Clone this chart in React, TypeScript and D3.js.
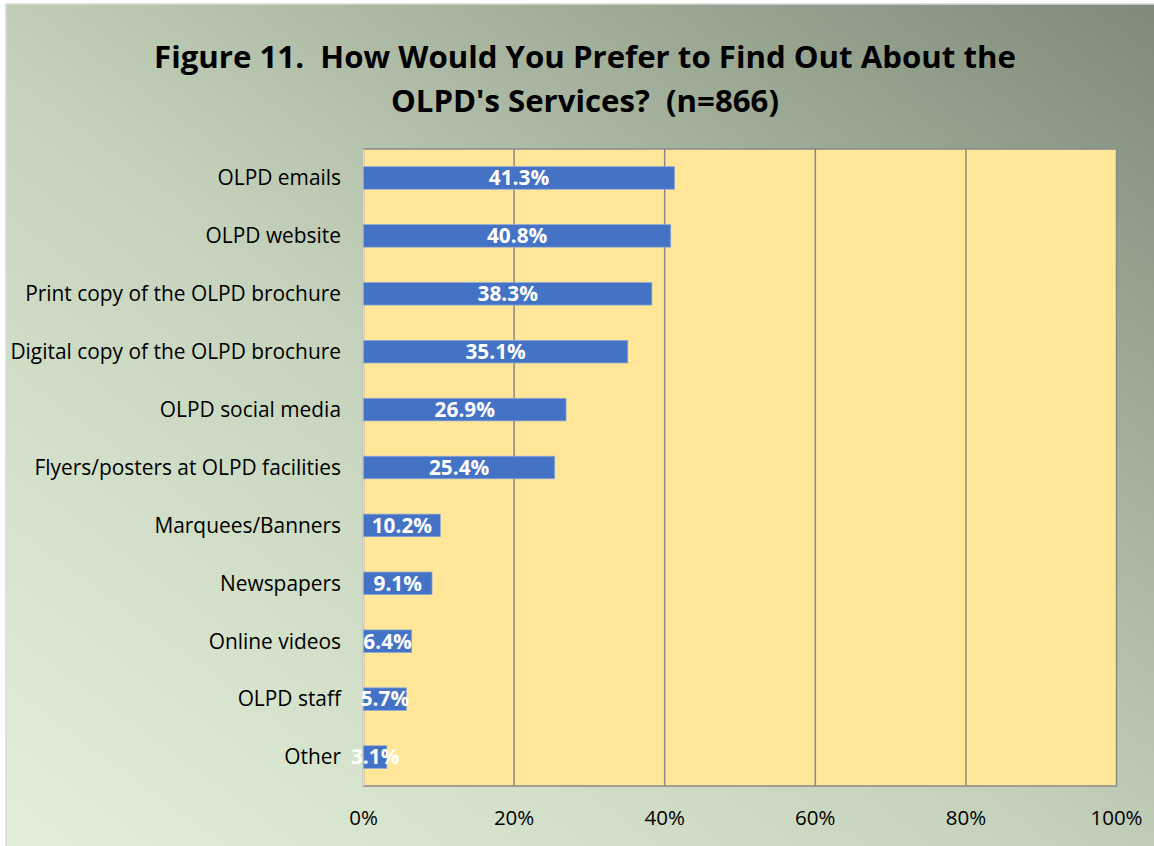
import React from "react";
import * as d3 from "d3";

const categories = [
  "OLPD emails",
  "OLPD website",
  "Print copy of the OLPD brochure",
  "Digital copy of the OLPD brochure",
  "OLPD social media",
  "Flyers/posters at OLPD facilities",
  "Marquees/Banners",
  "Newspapers",
  "Online videos",
  "OLPD staff",
  "Other",
];
const values = [41.3, 40.8, 38.3, 35.1, 26.9, 25.4, 10.2, 9.1, 6.4, 5.7, 3.1];
const ticks = [0, 20, 40, 60, 80, 100];
const titleLines = [
  "Figure 11.  How Would You Prefer to Find Out About the",
  "OLPD's Services?  (n=866)",
];

const W = 1154;
const H = 846;
const plot = { left: 363.5, right: 1116.5, top: 149, bottom: 786 };
const FONT = "'Open Sans', Lato, sans-serif";

export default function App() {
  const x = d3.scaleLinear().domain([0, 100]).range([plot.left, plot.right]);
  const y = d3
    .scaleBand<string>()
    .domain(categories)
    .range([plot.top, plot.bottom])
    .paddingInner(0.61)
    .paddingOuter(0.305);

  return (
    <svg
      width={W}
      height={H}
      style={{ display: "block", position: "fixed", left: 0, top: 0 }}
    >
      <defs>
        <linearGradient id="bg" x1="0" y1="1" x2="1" y2="0">
          <stop offset="0" stopColor="#E2EFDA" />
          <stop offset="0.45" stopColor="#C6D3BC" />
          <stop offset="1" stopColor="#7E8B79" />
        </linearGradient>
      </defs>
      <rect x={0} y={0} width={W} height={H} fill="#ffffff" />
      <rect x={6} y={4} width={W - 5} height={H - 3} fill="url(#bg)" stroke="#D9D9D9" strokeWidth={1.5} />
      {titleLines.map((t, i) => (
        <text
          key={i}
          x={585}
          y={67.5 + i * 44.5}
          textAnchor="middle"
          fontFamily={FONT}
          fontWeight="bold"
          fontSize={31.2}
          fill="#000"
          style={{ whiteSpace: "pre" }}
        >
          {t}
        </text>
      ))}
      <rect
        x={plot.left}
        y={plot.top}
        width={plot.right - plot.left}
        height={plot.bottom - plot.top}
        fill="#FFE699"
        stroke="#898989"
        strokeWidth={1.5}
      />
      {ticks.slice(1, -1).map((t) => (
        <line
          key={t}
          x1={x(t)}
          x2={x(t)}
          y1={plot.top}
          y2={plot.bottom}
          stroke="#898989"
          strokeWidth={1.5}
        />
      ))}
      <line x1={plot.left} x2={plot.left} y1={plot.top} y2={plot.bottom} stroke="#D9D9D9" strokeWidth={1.5} />
      {categories.map((c, i) => {
        const yy = y(c)!;
        const bw = y.bandwidth();
        const v = values[i];
        return (
          <g key={c}>
            <rect
              x={x(0)}
              y={yy}
              width={x(v) - x(0)}
              height={bw}
              fill="#4472C4"
              stroke="#8FAADC"
              strokeWidth={0.75}
            />
            <text
              x={(x(0) + x(v)) / 2}
              y={yy + bw / 2 + 7.3}
              textAnchor="middle"
              fontFamily={FONT}
              fontWeight="bold"
              fontSize={20.8}
              fill="#fff"
            >
              {v.toFixed(1)}%
            </text>
            <text
              x={341}
              y={yy + bw / 2 + 7.3}
              textAnchor="end"
              fontFamily={FONT}
              fontSize={20.9}
              fill="#000"
            >
              {c}
            </text>
          </g>
        );
      })}
      {ticks.map((t) => (
        <text
          key={t}
          x={x(t)}
          y={825}
          textAnchor="middle"
          fontFamily={FONT}
          fontSize={20.5}
          fill="#000"
        >
          {t}%
        </text>
      ))}
    </svg>
  );
}
